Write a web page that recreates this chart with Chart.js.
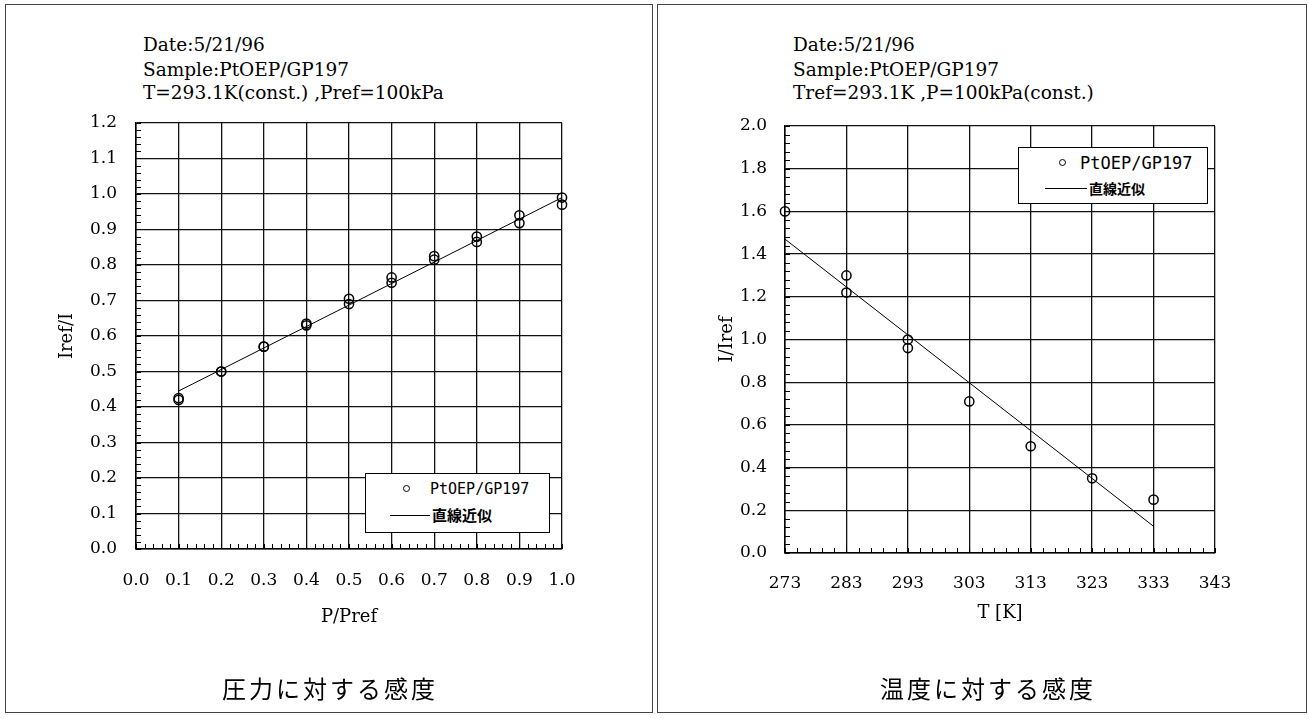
<!DOCTYPE html>
<html lang="ja">
<head>
<meta charset="utf-8">
<title>圧力・温度に対する感度</title>
<script src="https://cdn.jsdelivr.net/npm/chart.js@4.4.1/dist/chart.umd.min.js"></script>
<style>
  html, body { margin: 0; padding: 0; background: #fff; }
  body { width: 1309px; height: 719px; position: relative; overflow: hidden; color: #000; font-family: "DejaVu Serif", serif; }
  .panel { position: absolute; top: 4px; height: 709px; border: 1px solid #444; box-sizing: border-box; }
  canvas { position: absolute; top: 0; }
  .info { position: absolute; font-size: 18.5px; line-height: 24px; white-space: nowrap; }
  .caption { position: absolute; top: 672px; font-family: "Noto Sans CJK JP", sans-serif; font-size: 24px; line-height: 32px; letter-spacing: 3px; white-space: nowrap; }
  .legend { position: absolute; background: #fff; border: 1.5px solid #000; box-sizing: border-box; }
  .lg-mark { position: absolute; width: 7px; height: 7px; border: 1.4px solid #000; border-radius: 50%; box-sizing: border-box; }
  .lg-line { position: absolute; height: 0; border-top: 1px solid #000; }
  .lg-name { position: absolute; font-family: "DejaVu Sans Mono", monospace; white-space: nowrap; }
  .lg-fit { position: absolute; font-family: "Noto Sans CJK JP", sans-serif; font-weight: bold; white-space: nowrap; }
</style>
</head>
<body>

<div class="panel" style="left:5px; width:648px;"></div>
<div class="panel" style="left:657px; width:650px;"></div>

<!-- 左: 圧力 -->
<div class="info" style="left:143px; top:33px;">Date:5/21/96</div>
<div class="info" style="left:143px; top:58px;">Sample:PtOEP/GP197</div>
<div class="info" style="left:143px; top:81px;">T=293.1K(const.) ,Pref=100kPa</div>
<canvas id="pressureChart" width="655" height="719" style="left:0;"></canvas>
<div class="caption" style="left:222px;">圧力に対する感度</div>

<!-- 右: 温度 -->
<div class="info" style="left:793px; top:33px;">Date:5/21/96</div>
<div class="info" style="left:793px; top:58px;">Sample:PtOEP/GP197</div>
<div class="info" style="left:793px; top:81px;">Tref=293.1K ,P=100kPa(const.)</div>
<canvas id="tempChart" width="654" height="719" style="left:655px;"></canvas>
<div class="caption" style="left:880px;">温度に対する感度</div>

<!-- 凡例 -->
<div class="legend" style="left:365px; top:473px; width:185px; height:60px;"></div>
<div class="lg-mark" style="left:403px; top:485px;"></div>
<div class="lg-name" style="left:430px; top:479px; font-size:15px; line-height:20px;">PtOEP/GP197</div>
<div class="lg-line" style="left:390px; top:515px; width:40px;"></div>
<div class="lg-fit" style="left:432px; top:505px; font-size:15px; line-height:20px;">直線近似</div>

<div class="legend" style="left:1018px; top:147px; width:190px; height:57px;"></div>
<div class="lg-mark" style="left:1059px; top:159px;"></div>
<div class="lg-name" style="left:1080px; top:152px; font-size:17px; line-height:22px;">PtOEP/GP197</div>
<div class="lg-line" style="left:1045px; top:188px; width:42px;"></div>
<div class="lg-fit" style="left:1089px; top:178px; font-size:14px; line-height:20px;">直線近似</div>

<script>
// ==================================================
// データ
// ==================================================

// 圧力に対する感度
const pressureRatio = [0.1, 0.1, 0.2, 0.2, 0.3, 0.3, 0.4, 0.4, 0.5, 0.5,
                       0.6, 0.6, 0.7, 0.7, 0.8, 0.8, 0.9, 0.9, 1.0, 1.0];
const irefOverI = [0.425, 0.42, 0.50, 0.50, 0.57, 0.57, 0.635, 0.63, 0.705, 0.69,
                   0.765, 0.75, 0.825, 0.815, 0.88, 0.865, 0.94, 0.918, 0.99, 0.97];
const pressureFitX = [0.1, 1.0];
const pressureFitY = [0.445, 0.99];
const pressureXTicks = [0.0, 0.1, 0.2, 0.3, 0.4, 0.5, 0.6, 0.7, 0.8, 0.9, 1.0];
const pressureYTicks = [0.0, 0.1, 0.2, 0.3, 0.4, 0.5, 0.6, 0.7, 0.8, 0.9, 1.0, 1.1, 1.2];

// 温度に対する感度
const temperatureK = [273, 283, 283, 293, 293, 303, 313, 323, 333];
const iOverIref = [1.60, 1.30, 1.22, 1.00, 0.96, 0.71, 0.50, 0.35, 0.25];
const tempFitX = [273, 333];
const tempFitY = [1.47, 0.125];
const tempXTicks = [273, 283, 293, 303, 313, 323, 333, 343];
const tempYTicks = [0.0, 0.2, 0.4, 0.6, 0.8, 1.0, 1.2, 1.4, 1.6, 1.8, 2.0];

const seriesName = 'PtOEP/GP197';
const fitName = '直線近似';

// 副目盛り (内向き)
const minorTicks = {
  id: 'minorTicks',
  afterDatasetsDraw(chart, args, opts) {
    const { ctx, chartArea: a, scales: { x, y } } = chart;
    ctx.save();
    ctx.strokeStyle = '#000';
    ctx.lineWidth = 1;
    ctx.beginPath();
    for (let v = y.min; v <= y.max + 1e-9; v += opts.yStep) {
      const py = Math.round(y.getPixelForValue(v)) + 0.5;
      ctx.moveTo(a.left, py);
      ctx.lineTo(a.left + 5, py);
    }
    for (let v = x.min; v <= x.max + 1e-9; v += opts.xStep) {
      const px = Math.round(x.getPixelForValue(v)) + 0.5;
      ctx.moveTo(px, a.bottom);
      ctx.lineTo(px, a.bottom - 5);
    }
    ctx.stroke();
    ctx.restore();
  }
};

const toPoints = (xs, ys) => xs.map((v, i) => ({ x: v, y: ys[i] }));

function makeChart(id, o) {
  const tickFont = { family: 'DejaVu Serif', size: 17 };
  const titleFont = { family: 'DejaVu Serif', size: 18 };
  const grid = { color: '#111', lineWidth: 1.3, drawTicks: false };
  const border = { display: true, color: '#000', width: 1.5 };

  return new Chart(document.getElementById(id), {
    type: 'scatter',
    data: {
      datasets: [{
        label: seriesName,
        data: toPoints(o.xs, o.ys),
        showLine: false,
        pointStyle: 'circle',
        pointRadius: 4.6,
        pointBorderWidth: 1.5,
        borderColor: '#000',
        backgroundColor: 'rgba(0,0,0,0)',
        clip: false
      }, {
        label: fitName,
        data: toPoints(o.fitX, o.fitY),
        showLine: true,
        pointRadius: 0,
        borderColor: '#000',
        borderWidth: 1,
        clip: false
      }]
    },
    options: {
      responsive: false,
      animation: false,
      devicePixelRatio: 1,
      layout: { padding: o.padding },
      plugins: {
        legend: { display: false },
        tooltip: { enabled: false },
        minorTicks: { xStep: o.xMinor, yStep: o.yMinor }
      },
      scales: {
        x: {
          type: 'linear',
          min: o.xTicks[0],
          max: o.xTicks[o.xTicks.length - 1],
          afterBuildTicks: s => { s.ticks = o.xTicks.map(v => ({ value: v })); },
          afterFit: s => { s.height = 100; },
          grid, border,
          ticks: { color: '#000', font: tickFont, padding: o.xLabelPad, maxRotation: 0, autoSkip: false,
                   callback: v => o.xFmt(v) },
          title: { display: true, text: o.xTitle, color: '#000', font: titleFont,
                   padding: { top: 0, bottom: o.xTitlePad } }
        },
        y: {
          type: 'linear',
          min: o.yTicks[0],
          max: o.yTicks[o.yTicks.length - 1],
          afterBuildTicks: s => { s.ticks = o.yTicks.map(v => ({ value: v })); },
          afterFit: s => { s.width = o.yWidth; },
          grid, border,
          ticks: { color: '#000', font: tickFont, padding: o.yLabelPad, autoSkip: false,
                   callback: v => v.toFixed(1) },
          title: { display: true, text: o.yTitle, color: '#000', font: titleFont,
                   padding: { top: o.yTitlePad, bottom: 0 } }
        }
      }
    },
    plugins: [minorTicks]
  });
}

makeChart('pressureChart', {
  xs: pressureRatio, ys: irefOverI,
  fitX: pressureFitX, fitY: pressureFitY,
  xTicks: pressureXTicks, yTicks: pressureYTicks,
  xMinor: 0.02, yMinor: 0.02,
  xFmt: v => v.toFixed(1),
  xTitle: 'P/Pref', yTitle: 'Iref/I',
  padding: { top: 123, right: 93, bottom: 70, left: 0 },
  yWidth: 136, yLabelPad: 19, yTitlePad: 57,
  xLabelPad: 21, xTitlePad: 21
});

makeChart('tempChart', {
  xs: temperatureK, ys: iOverIref,
  fitX: tempFitX, fitY: tempFitY,
  xTicks: tempXTicks, yTicks: tempYTicks,
  xMinor: 2, yMinor: 0.04,
  xFmt: v => String(v),
  xTitle: 'T [K]', yTitle: 'I/Iref',
  padding: { top: 126, right: 94, bottom: 66, left: 0 },
  yWidth: 130, yLabelPad: 18, yTitlePad: 62,
  xLabelPad: 20, xTitlePad: 29
});
</script>
</body>
</html>
